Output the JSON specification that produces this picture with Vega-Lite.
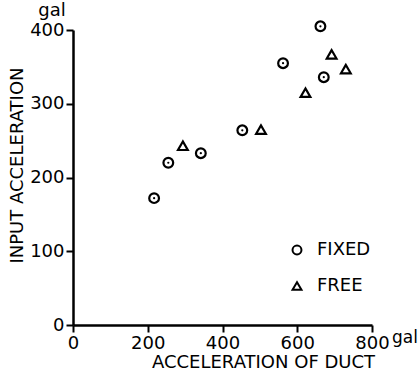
{
  "$schema": "https://vega.github.io/schema/vega-lite/v6.json",
  "width": 299,
  "height": 295,
  "autosize": {"type": "none"},
  "padding": {"left": 73, "top": 30, "right": 47, "bottom": 52},
  "background": "white",
  "config": {
    "view": {"stroke": null},
    "font": "DejaVu Sans",
    "axis": {
      "grid": false,
      "domainColor": "black",
      "domainWidth": 2.5,
      "tickColor": "black",
      "tickWidth": 2,
      "tickSize": 7,
      "labelFontSize": 18,
      "labelColor": "black",
      "labelFlush": false,
      "labelOverlap": false,
      "labelBound": false,
      "titleFontSize": 18,
      "titleFontWeight": "normal",
      "titleColor": "black"
    }
  },
  "datasets": {
    "pts": [
      {"duct": 217, "input": 172, "type": "FIXED"},
      {"duct": 255, "input": 220, "type": "FIXED"},
      {"duct": 342, "input": 233, "type": "FIXED"},
      {"duct": 453, "input": 264, "type": "FIXED"},
      {"duct": 562, "input": 355, "type": "FIXED"},
      {"duct": 662, "input": 405, "type": "FIXED"},
      {"duct": 671, "input": 336, "type": "FIXED"},
      {"duct": 294, "input": 243, "type": "FREE"},
      {"duct": 503, "input": 265, "type": "FREE"},
      {"duct": 622, "input": 315, "type": "FREE"},
      {"duct": 692, "input": 367, "type": "FREE"},
      {"duct": 730, "input": 347, "type": "FREE"}
    ]
  },
  "layer": [
    {
      "data": {"name": "pts"},
      "mark": {"type": "point", "filled": false, "color": "black", "strokeWidth": 2.2, "size": 95, "opacity": 1},
      "encoding": {
        "x": {
          "field": "duct", "type": "quantitative",
          "scale": {"domain": [0, 800], "nice": false},
          "axis": {"values": [0, 200, 400, 600, 800], "title": "ACCELERATION OF DUCT", "titleX": 190, "titlePadding": 1}
        },
        "y": {
          "field": "input", "type": "quantitative",
          "scale": {"domain": [0, 400], "nice": false},
          "axis": {"values": [0, 100, 200, 300, 400], "title": "INPUT ACCELERATION", "titleY": 135, "titlePadding": 3, "labelPadding": 2}
        },
        "shape": {
          "field": "type", "type": "nominal",
          "scale": {"domain": ["FIXED", "FREE"], "range": ["circle", "triangle-up"]},
          "legend": {
            "title": null, "orient": "none", "legendX": 215, "legendY": 211,
            "labelFontSize": 18, "labelColor": "black", "symbolSize": 80, "symbolStrokeWidth": 2,
            "rowPadding": 18, "labelOffset": 11
          }
        }
      }
    },
    {
      "data": {"name": "pts"},
      "transform": [{"filter": "datum.type === 'FIXED'"}],
      "mark": {"type": "point", "filled": true, "color": "black", "size": 5, "opacity": 1},
      "encoding": {
        "x": {"field": "duct", "type": "quantitative"},
        "y": {"field": "input", "type": "quantitative"}
      }
    },
    {
      "data": {"values": [{"duct": 0, "input": 400, "unit": "gal"}]},
      "mark": {"type": "text", "fontSize": 18, "color": "black", "align": "center", "baseline": "alphabetic", "dx": -21, "dy": -14},
      "encoding": {
        "x": {"field": "duct", "type": "quantitative"},
        "y": {"field": "input", "type": "quantitative"},
        "text": {"field": "unit"}
      }
    },
    {
      "data": {"values": [{"duct": 800, "input": 0, "unit": "gal"}]},
      "mark": {"type": "text", "fontSize": 17, "color": "black", "align": "center", "baseline": "alphabetic", "dx": 33, "dy": 18},
      "encoding": {
        "x": {"field": "duct", "type": "quantitative"},
        "y": {"field": "input", "type": "quantitative"},
        "text": {"field": "unit"}
      }
    }
  ]
}
